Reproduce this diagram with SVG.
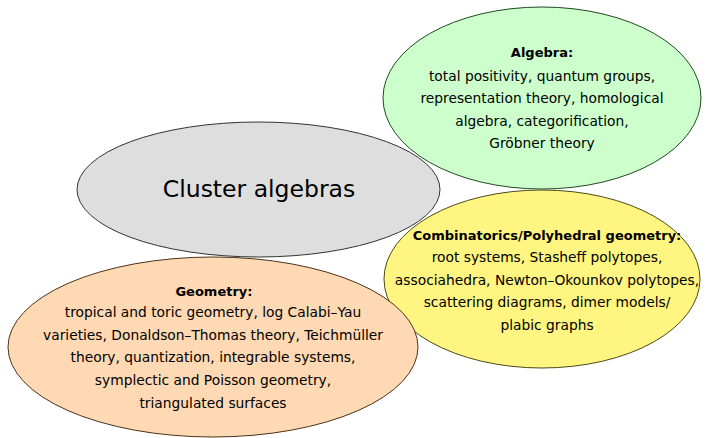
<svg xmlns="http://www.w3.org/2000/svg" width="708" height="438" viewBox="0 0 708 438">
<style>
.t{font-family:"DejaVu Sans","Liberation Sans",sans-serif;font-size:13.8px;fill:#000;text-anchor:middle}
.b{font-weight:bold;font-size:13px}
.big{font-family:"DejaVu Sans","Liberation Sans",sans-serif;font-size:23.5px;fill:#000;text-anchor:middle}
ellipse{stroke-width:1}
</style>
<rect width="708" height="438" fill="#fff"/>
<g id="cluster">
<ellipse cx="258.5" cy="189.5" rx="181.5" ry="67.5" fill="#dedede" stroke="#333"/>
<text class="big" x="259" y="197">Cluster algebras</text>
</g>
<g id="algebra">
<ellipse cx="542" cy="98" rx="159" ry="91" fill="#ccffcc" stroke="#1f4a1f"/>
<text class="t b" x="542" y="57">Algebra:</text>
<text class="t" x="542" y="81">total positivity, quantum groups,</text>
<text class="t" x="542" y="103">representation theory, homological</text>
<text class="t" x="542" y="126">algebra, categorification,</text>
<text class="t" x="542" y="148">Gröbner theory</text>
</g>
<g id="combinatorics">
<ellipse cx="542" cy="279" rx="158" ry="89" fill="#fff580" stroke="#4a4a1a"/>
<text class="t b" x="547" y="240">Combinatorics/Polyhedral geometry:</text>
<text class="t" x="547" y="262">root systems, Stasheff polytopes,</text>
<text class="t" x="547" y="285">associahedra, Newton–Okounkov polytopes,</text>
<text class="t" x="547" y="307">scattering diagrams, dimer models/</text>
<text class="t" x="547" y="330">plabic graphs</text>
</g>
<g id="geometry">
<ellipse cx="213" cy="347" rx="205" ry="90" fill="#ffd9b3" stroke="#4a3319"/>
<text class="t b" x="214" y="296">Geometry:</text>
<text class="t" x="213" y="317">tropical and toric geometry, log Calabi–Yau</text>
<text class="t" x="213" y="340">varieties, Donaldson–Thomas theory, Teichmüller</text>
<text class="t" x="213" y="362">theory, quantization, integrable systems,</text>
<text class="t" x="213" y="385">symplectic and Poisson geometry,</text>
<text class="t" x="213" y="408">triangulated surfaces</text>
</g>
<g id="connectors"/>
</svg>
